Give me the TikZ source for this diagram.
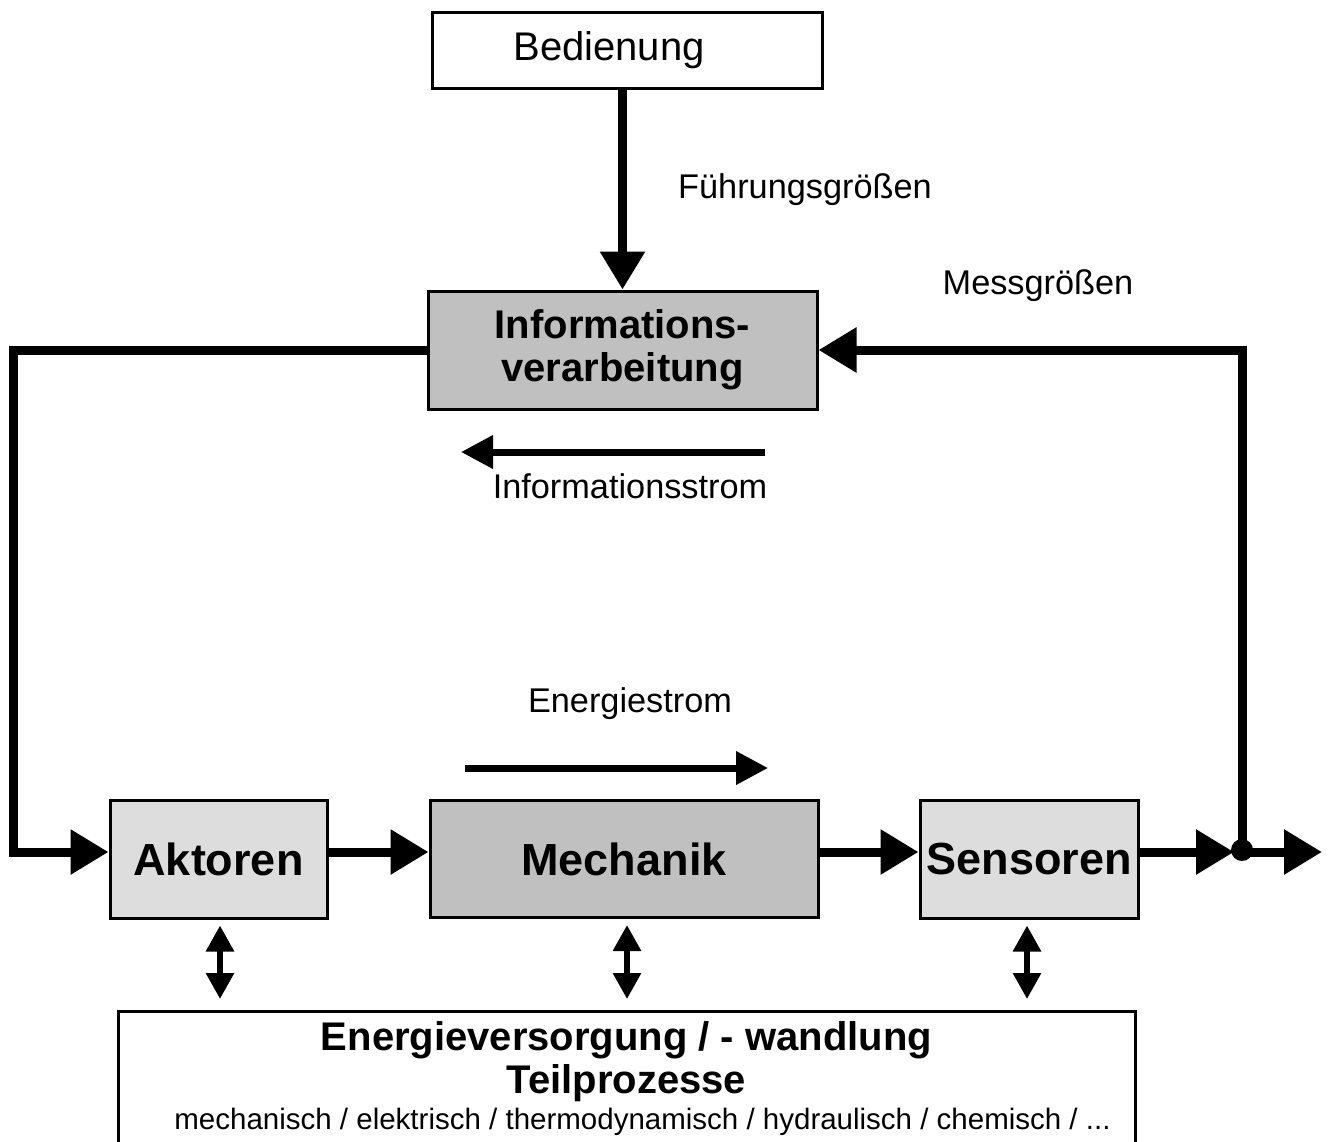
\documentclass[tikz,border=0pt]{standalone}
\usepackage{fontspec}
\setmainfont{Liberation Sans}
\usetikzlibrary{arrows.meta,positioning}
\definecolor{boxdark}{HTML}{C0C0C0}
\definecolor{boxlight}{HTML}{DDDDDD}

\begin{document}
\begin{tikzpicture}[x=1pt, y=-1pt, on grid,
    block/.style={draw, line width=3pt, inner sep=0pt},
    bigbold/.style={font=\bfseries\fontsize{45}{50}\selectfont},
    label/.style={font=\fontsize{34.3}{40}\selectfont, inner sep=0pt},
    bigflow/.style={line width=9pt, -{Triangle[length=38pt,width=43pt]}},
    midflow/.style={line width=7pt, -{Triangle[length=32pt,width=32pt]}},
    bothflow/.style={line width=6pt, {Triangle[length=26pt,width=27pt]}-{Triangle[length=26pt,width=27pt]}}]
  \useasboundingbox (0,0) rectangle (1329,1141);

  \node[block, minimum width=390pt, minimum height=76pt,
        font=\fontsize{40}{48}\selectfont]              (bed)  at (627,50)     {\hspace*{-36pt}Bedienung};
  \node[block, fill=boxdark, minimum width=389pt, minimum height=118pt, align=center,
        font=\bfseries\fontsize{40}{43}\selectfont]     (info) at (622.5,350)  {Informations-\\verarbeitung};
  \node[block, bigbold, fill=boxdark, minimum width=388pt, minimum height=117pt]
                                                         (mech) at (624,859)    {Mechanik};
  \node[block, bigbold, fill=boxlight, minimum width=217pt, minimum height=118pt]
                                                         (akt)  [left=405.5pt of mech]  {Aktoren};
  \node[block, bigbold, fill=boxlight, minimum width=218pt, minimum height=118pt]
                                                         (sens) [right=405pt of mech]   {Sensoren};
  \node[block, anchor=north, minimum width=1017pt, inner ysep=10pt, align=center, text depth=40pt,
        font=\bfseries\fontsize{40}{43}\selectfont]     (energy) at (626.5,1010)
        {Energieversorgung / - wandlung\\Teilprozesse\\[-7pt]
         \mdseries\fontsize{29.5}{36}\selectfont\hspace*{32pt}mechanisch / elektrisch / thermodynamisch / hydraulisch / chemisch / ...};

  % labels
  \node[label] (fg)     at (805,190) {Führungsgrößen};
  \node[label] (mg)     at (1038,286) {Messgrößen};
  \node[label] (istrom) at (630,486) {Informationsstrom};
  \node[label] (estrom) at (630,704) {Energiestrom};

  \coordinate (left)  at (13,600);
  \coordinate (junc)  at (1242,850);
  \coordinate (out)   at (1322,852);
  \coordinate (ifrom) at (765,452);
  \coordinate (ito)   at (461,452);
  \coordinate (efrom) at (465,768);
  \coordinate (eto)   at (768,768);

  % information side
  \draw[bigflow] (info.north |- bed.south) -- (info.north);
  \draw[bigflow] (info.west) -- (info.west -| left) |- ([yshift=7pt]akt.west);
  \draw[bigflow] (junc) |- (info.east);
  \draw[midflow] (ifrom) -- (ito);
  \draw[midflow] (efrom) -- (eto);

  % energy side
  \draw[bigflow] ([yshift=7pt]akt.east)  -- ([yshift=7pt]mech.west);
  \draw[bigflow] ([yshift=7pt]mech.east) -- ([yshift=7pt]sens.west);
  \draw[bigflow, shorten >=8pt] ([yshift=7pt]sens.east) -- (junc |- out);
  \draw[bigflow] (junc |- out) -- (out);
  \fill (junc) circle (11pt);

  \draw[bothflow, shorten <=6pt, shorten >=11pt] ([xshift=1.5pt]akt.south)  -- ([xshift=1.5pt]akt.south |- energy.north);
  \draw[bothflow, shorten <=6pt, shorten >=11pt] ([xshift=3pt]mech.south)   -- ([xshift=3pt]mech.south |- energy.north);
  \draw[bothflow, shorten <=6pt, shorten >=11pt] ([xshift=-2pt]sens.south)  -- ([xshift=-2pt]sens.south |- energy.north);
\end{tikzpicture}
\end{document}
